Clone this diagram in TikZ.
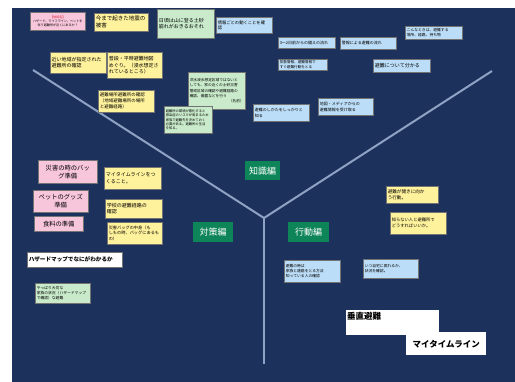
\documentclass[tikz,border=0pt]{standalone}
\usepackage{fontspec}
\setmainfont{Noto Sans CJK JP}
\XeTeXlinebreaklocale "ja"
\definecolor{navy}{HTML}{1C315C}
\definecolor{linec}{HTML}{8EA3C4}
\definecolor{pinkc}{HTML}{F8C6DA}
\definecolor{yelc}{HTML}{FFF29C}
\definecolor{grnc}{HTML}{C9EBCB}
\definecolor{bluc}{HTML}{BCDDF7}
\definecolor{labc}{HTML}{0E8559}
\definecolor{redc}{HTML}{E0203A}
\begin{document}
\begin{tikzpicture}[x=1pt,y=-1pt,
  bx/.style={draw=black!55, line width=0.5pt, anchor=north west, inner sep=1.5pt,
    align=left, text=black, font=\fontsize{4.5}{6}\selectfont},
  pk/.style={bx, fill=pinkc},
  yl/.style={bx, fill=yelc},
  gr/.style={bx, fill=grnc},
  bl/.style={bx, fill=bluc},
  wh/.style={bx, fill=white, draw=none},
  lab/.style={fill=labc, text=white, anchor=north west, inner sep=0pt,
    font=\fontsize{9}{10}\selectfont, align=center},
  axis/.style={draw=linec, line width=2pt}]
\useasboundingbox (0,0) rectangle (515,382);
\fill[white] (0,0) rectangle (515,382);
\fill[navy] (12,8) rectangle (515,382);
% axes
\coordinate (L) at (33,70);
\coordinate (R) at (492,71);
\coordinate (C) at (264,218);
\coordinate (B) at (264,364);
\draw[axis] (L) -- (C) -- (R);
\draw[axis] (C) -- (B);
% top-left area
\node[pk, text width=52pt, minimum height=18pt, align=center, font=\fontsize{3.1}{4.3}\selectfont] (p0) at (30,12)
  {\textcolor{redc}{【地域名】}\\ハザード、ライフライン、ペットを\\伴う避難所が近くにあるか？};
\node[yl, text width=51pt, minimum height=18pt, font=\fontsize{5.5}{7}\selectfont] (y0) at (94,13) {今まで起きた地震の\\被害};
\node[gr, text width=54pt, minimum height=29pt, font=\fontsize{5}{6.5}\selectfont] (g0) at (157,9) {日頃は山に登る土砂\\崩れがおきるおそれ\\[6pt]};
\node[bl, text width=53pt, minimum height=16pt, font=\fontsize{4.3}{5.6}\selectfont] (b0) at (216,17) {情報ごとの動くことを確\\認};
\node[bl, text width=54pt, minimum height=11pt, font=\fontsize{4}{5}\selectfont] (b1) at (278,37) {3～2日前からの備えの流れ};
\node[bl, text width=53pt, minimum height=12pt, font=\fontsize{4}{5}\selectfont] (b2) at (340,37) {警報による避難の流れ};
\node[bl, text width=54pt, minimum height=13pt, font=\fontsize{3.8}{4.8}\selectfont] (b3) at (405,26) {こんなときは、避難する\\場所、経路、持ち物};
\node[bl, text width=54pt, minimum height=13pt, font=\fontsize{5}{6}\selectfont] (b4) at (373,59) {避難について分かる};
\node[bl, text width=46pt, minimum height=11pt, font=\fontsize{3.6}{4.6}\selectfont] (b5) at (278,59) {気象情報、避難情報で\\すぐ避難行動をとる};
\node[yl, text width=53pt, minimum height=21pt, font=\fontsize{5}{6.5}\selectfont] (y1) at (50,52) {近い地域が指定された\\避難所の確認};
\node[yl, text width=52pt, minimum height=26pt, font=\fontsize{5}{6.5}\selectfont] (y2) at (107,52) {普段・平時避難地図\\めぐり。（浸水想定さ\\れているところ）};
\node[yl, text width=53pt, minimum height=22pt, font=\fontsize{4.5}{6}\selectfont] (y3) at (98,90) {避難場所避難所の確認\\（地域避難場所の場所\\と避難経路）};
\node[gr, text width=54pt, minimum height=37pt, font=\fontsize{3.7}{5.2}\selectfont] (g1) at (188,72)
  {洪水浸水想定区域ではないと\\しても、家の近くの土砂災害\\警戒区域の確認や避難経路の\\確認、備蓄などを行う\\\hfill（名前）};
\node[gr, text width=45pt, minimum height=27pt, font=\fontsize{3.3}{4.4}\selectfont] (g2) at (164,106)
  {避難所の環境が悪化すると\\感染症のリスクが高まるため\\家族で避難先を決めておく\\必要がある。避難所の生活\\を知る。};
\node[bl, text width=53pt, minimum height=17pt, font=\fontsize{4}{5.5}\selectfont] (b6) at (253,104) {避難のしかたをしっかりと\\知る};
\node[bl, text width=52pt, minimum height=17pt, font=\fontsize{4}{5.5}\selectfont] (b7) at (318,98) {地図・メディアからの\\避難情報を受け取る};
% labels
\node[lab, minimum width=35pt, minimum height=19pt] (k1) at (245,161) {知識編};
\node[lab, minimum width=40pt, minimum height=20pt] (k2) at (193,222) {対策編};
\node[lab, minimum width=41pt, minimum height=20pt] (k3) at (288,222) {行動編};
% left area
\node[pk, text width=56pt, minimum height=23pt, align=center, font=\fontsize{6.3}{8}\selectfont] (p1) at (38,160) {災害の時のバッ\\グ準備};
\node[pk, text width=52pt, minimum height=22pt, align=center, font=\fontsize{6.3}{8}\selectfont] (p2) at (33,190) {ペットのグッズ\\準備};
\node[pk, text width=46pt, minimum height=15pt, align=center, font=\fontsize{6.3}{8}\selectfont] (p3) at (34,216) {食料の準備};
\node[yl, text width=54pt, minimum height=22pt, font=\fontsize{5}{6.5}\selectfont] (y4) at (104,167) {マイタイムラインをつ\\くること。};
\node[yl, text width=54pt, minimum height=19pt, font=\fontsize{5}{6.5}\selectfont] (y5) at (105,199) {学校の避難経路の\\確認};
\node[yl, text width=52pt, minimum height=22pt, font=\fontsize{4.2}{5.8}\selectfont] (y6) at (107,222) {災害バッグの中身（も\\しもの時、バッグにあるも\\の）};
\node[bx, fill=white, text width=92pt, minimum height=15pt, font=\bfseries\fontsize{5.6}{7}\selectfont] (w1) at (27,252) {ハザードマップでなにがわかるか};
\node[gr, text width=52pt, minimum height=20pt, font=\fontsize{3.8}{5}\selectfont] (g3) at (35,283) {やっぱり大切な\\家族の状況（ハザードマップ\\で確認）な避難};
% right area
\node[yl, text width=49pt, minimum height=17pt, font=\fontsize{4.6}{6}\selectfont] (y7) at (386,186) {避難が開きに向か\\う行動。};
\node[yl, text width=53pt, minimum height=22pt, font=\fontsize{4.3}{6}\selectfont] (y8) at (390,212) {知らない人と避難所で\\どうすればいいか。};
\node[bl, text width=53pt, minimum height=22pt, font=\fontsize{3.8}{5.2}\selectfont] (b8) at (284,260) {避難の時は\\家族と連絡をとる方法\\知っている人の確認};
\node[bl, text width=52pt, minimum height=19pt, font=\fontsize{3.8}{5.2}\selectfont] (b9) at (363,259) {いつ自宅に戻れるか、\\状況を確認。};
\node[wh, minimum width=93pt, minimum height=25pt, inner sep=0pt] (w2) at (346,310) {};
\node[anchor=north west, inner sep=1pt, font=\bfseries\fontsize{8.5}{10}\selectfont] (t2) at (346,311) {垂直避難};
\node[wh, minimum width=80pt, minimum height=23pt, inner sep=0pt, font=\bfseries\fontsize{8.5}{10}\selectfont] (w3) at (406,332) {マイタイムライン};
\end{tikzpicture}
\end{document}
